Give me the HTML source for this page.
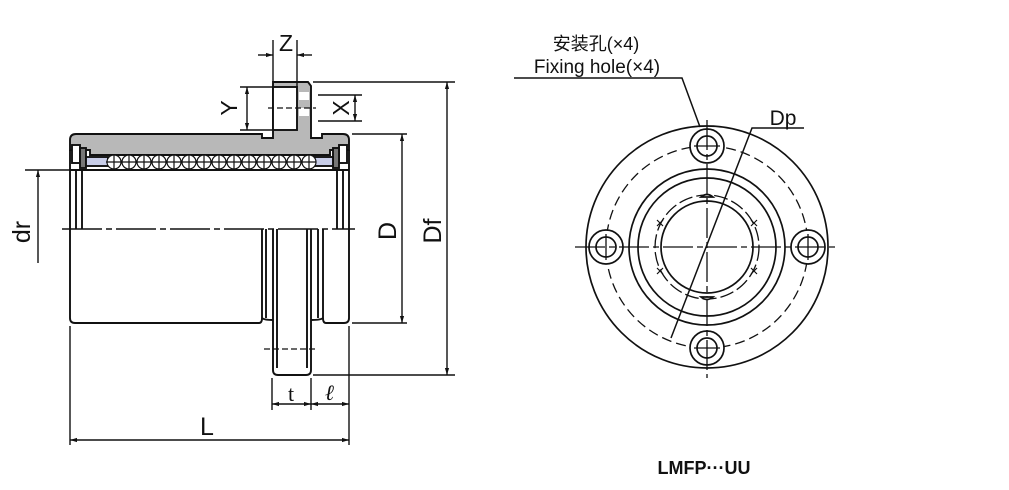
<!DOCTYPE html>
<html><head><meta charset="utf-8"><style>
html,body{margin:0;padding:0;background:#fff;}
svg{display:block;}
text{font-family:"Liberation Sans","Noto Sans CJK SC",sans-serif;fill:#111;}
</style></head><body>
<svg width="1009" height="490" viewBox="0 0 1009 490" xmlns="http://www.w3.org/2000/svg">
<defs>
<marker id="a" viewBox="0 0 10 10" refX="10" refY="5" markerWidth="8" markerHeight="5" orient="auto-start-reverse"><path d="M0,2 L10,5 L0,8 z" fill="#111"/></marker>
</defs>
<g stroke="#111" fill="none" stroke-width="1.9">
<path d="M70,150 L70,140 Q70,134 76,134 L262,134 L262,138 L273,138 L273,82 L308,82 L311,86 L311,138 L322,138 L322,134 L343,134 Q349,134 349,140 L349,150 L330,150 L330,155 L90,155 L90,150 Z" fill="#b8b8b8"/>
<rect x="273" y="87" width="24" height="43" fill="#fff"/>
<rect x="299" y="92" width="10" height="8" fill="#fff" stroke="none"/>
<rect x="299" y="108" width="10" height="8" fill="#fff" stroke="none"/>
<line x1="268" y1="108" x2="316" y2="108" stroke-dasharray="6,3" stroke-width="1.2"/>
<rect x="72" y="145" width="8" height="18" fill="#fff"/>
<rect x="339" y="145" width="8" height="18" fill="#fff"/>
<rect x="80" y="148" width="6" height="20" fill="#777"/>
<rect x="333" y="148" width="6" height="20" fill="#777"/>
<rect x="86" y="157" width="22" height="9" fill="#c8cde8"/>
<rect x="311" y="157" width="22" height="9" fill="#c8cde8"/>
<line x1="70" y1="170" x2="349" y2="170"/>
</g>
<g stroke="#111" fill="#fff" stroke-width="1.2">
<circle cx="114" cy="162" r="7"/><circle cx="129" cy="162" r="7"/><circle cx="144" cy="162" r="7"/><circle cx="159" cy="162" r="7"/><circle cx="174" cy="162" r="7"/><circle cx="189" cy="162" r="7"/><circle cx="204" cy="162" r="7"/><circle cx="219" cy="162" r="7"/><circle cx="234" cy="162" r="7"/><circle cx="249" cy="162" r="7"/><circle cx="264" cy="162" r="7"/><circle cx="279" cy="162" r="7"/><circle cx="294" cy="162" r="7"/><circle cx="309" cy="162" r="7"/>
<line x1="106" y1="162" x2="316" y2="162"/>
<path d="M114,155v14M129,155v14M144,155v14M159,155v14M174,155v14M189,155v14M204,155v14M219,155v14M234,155v14M249,155v14M264,155v14M279,155v14M294,155v14M309,155v14"/>
</g>
<g stroke="#111" fill="none" stroke-width="1.9">
<line x1="70" y1="150" x2="70" y2="318"/>
<line x1="349" y1="150" x2="349" y2="318"/>
<line x1="76" y1="170" x2="76" y2="229"/><line x1="82" y1="170" x2="82" y2="229"/>
<line x1="337" y1="170" x2="337" y2="229"/><line x1="343" y1="170" x2="343" y2="229"/>
<path d="M70,318 Q70,323 75,323 L259,323 Q262,323 262,318 L262,229"/>
<path d="M349,318 Q349,323 344,323 L326,323 Q323,323 323,318 L323,229"/>
<line x1="266" y1="229" x2="266" y2="318"/><path d="M262,318 Q264,320 273,320"/>
<line x1="318" y1="229" x2="318" y2="318"/><path d="M323,318 Q321,320 311,320"/>
<path d="M273,229 L273,370 Q273,375 278,375 L306,375 Q311,375 311,370 L311,229"/>
<line x1="277" y1="229" x2="277" y2="368"/><line x1="307" y1="229" x2="307" y2="368"/>
<line x1="264" y1="349" x2="316" y2="349" stroke-dasharray="6,3" stroke-width="1.3"/>
<line x1="62" y1="229" x2="355" y2="229" stroke-dasharray="40,4,6,4" stroke-width="1.4"/>
</g>
<g stroke="#111" fill="none" stroke-width="1.4">
<line x1="273" y1="40" x2="273" y2="82"/><line x1="297" y1="40" x2="297" y2="87"/>
<line x1="258" y1="55" x2="273" y2="55" marker-end="url(#a)"/><line x1="312" y1="55" x2="297" y2="55" marker-end="url(#a)"/>
<line x1="240" y1="87" x2="273" y2="87"/><line x1="240" y1="130" x2="273" y2="130"/>
<line x1="247" y1="87" x2="247" y2="130" marker-start="url(#a)" marker-end="url(#a)"/>
<line x1="318" y1="95" x2="362" y2="95"/><line x1="318" y1="121" x2="362" y2="121"/>
<line x1="355" y1="95" x2="355" y2="121" marker-start="url(#a)" marker-end="url(#a)"/>
<line x1="313" y1="82" x2="455" y2="82"/><line x1="313" y1="375" x2="455" y2="375"/>
<line x1="447" y1="82" x2="447" y2="375" marker-start="url(#a)" marker-end="url(#a)"/>
<line x1="352" y1="134" x2="407" y2="134"/><line x1="352" y1="323" x2="407" y2="323"/>
<line x1="402" y1="134" x2="402" y2="323" marker-start="url(#a)" marker-end="url(#a)"/>
<line x1="25" y1="170" x2="70" y2="170"/>
<line x1="38" y1="263" x2="38" y2="170" marker-end="url(#a)"/>
<line x1="70" y1="326" x2="70" y2="445"/><line x1="349" y1="326" x2="349" y2="445"/>
<line x1="70" y1="440" x2="349" y2="440" marker-start="url(#a)" marker-end="url(#a)"/>
<line x1="272" y1="378" x2="272" y2="410"/><line x1="311" y1="378" x2="311" y2="410"/>
<line x1="272" y1="404" x2="311" y2="404" marker-start="url(#a)" marker-end="url(#a)"/>
<line x1="311" y1="404" x2="349" y2="404" marker-start="url(#a)" marker-end="url(#a)"/>
</g>
<text x="286" y="51" font-size="23" text-anchor="middle">Z</text>
<text transform="translate(237,108) rotate(-90)" font-size="23" text-anchor="middle">Y</text>
<text transform="translate(349,108) rotate(-90)" font-size="23" text-anchor="middle">X</text>
<text transform="translate(396,231) rotate(-90)" font-size="25" text-anchor="middle">D</text>
<text transform="translate(441,231) rotate(-90)" font-size="25" text-anchor="middle">Df</text>
<text transform="translate(30,232) rotate(-90)" font-size="25" text-anchor="middle">dr</text>
<text x="207" y="435" font-size="25" text-anchor="middle">L</text>
<text x="291" y="401" font-size="22" text-anchor="middle" style="font-family:'Liberation Serif',serif">t</text>
<text x="330" y="400" font-size="22" text-anchor="middle" font-style="italic" font-weight="bold" style="font-family:'Liberation Serif',serif">ℓ</text>
<g stroke="#111" fill="none" stroke-width="1.7">
<circle cx="707" cy="247" r="121"/>
<circle cx="707" cy="247" r="101" stroke-dasharray="10,5" stroke-width="1.3"/>
<circle cx="707" cy="247" r="78"/>
<circle cx="707" cy="247" r="69"/>
<circle cx="707" cy="247" r="52" stroke-dasharray="14,4" stroke-width="1.3"/>
<circle cx="707" cy="247" r="46"/>
<g fill="#fff">
<circle cx="707" cy="146" r="17"/><circle cx="707" cy="146" r="10"/>
<circle cx="707" cy="348" r="17"/><circle cx="707" cy="348" r="10"/>
<circle cx="606" cy="247" r="17"/><circle cx="606" cy="247" r="10"/>
<circle cx="808" cy="247" r="17"/><circle cx="808" cy="247" r="10"/>
</g>
<g stroke-width="1.3">
<line x1="707" y1="120" x2="707" y2="378" stroke-dasharray="30,4,6,4"/>
<line x1="575" y1="247" x2="837" y2="247" stroke-dasharray="30,4,6,4"/>
<line x1="694" y1="146" x2="720" y2="146"/><line x1="694" y1="348" x2="720" y2="348"/>
<line x1="606" y1="234" x2="606" y2="260"/><line x1="808" y1="234" x2="808" y2="260"/>
</g>
<path d="M701,197 Q707,192 713,197 Z M701,297 Q707,302 713,297 Z" fill="#fff"/>
<path d="M657,220 l6,6 M663,220 l-6,6 M751,220 l6,6 M757,220 l-6,6 M657,268 l6,6 M663,268 l-6,6 M751,268 l6,6 M757,268 l-6,6" stroke-width="1.2"/>
<polyline points="514,78 682,78 700,127" stroke-width="1.5"/>
<polyline points="804,128 752,128 671,338" stroke-width="1.5"/>
</g>
<text x="596" y="50" font-size="18" text-anchor="middle">安装孔(×4)</text>
<text x="597" y="73" font-size="19" text-anchor="middle">Fixing hole(×4)</text>
<text x="783" y="125" font-size="21" text-anchor="middle">Dp</text>
<text x="704" y="474" font-size="18" font-weight="bold" text-anchor="middle">LMFP···UU</text>
</svg>
</body></html>
